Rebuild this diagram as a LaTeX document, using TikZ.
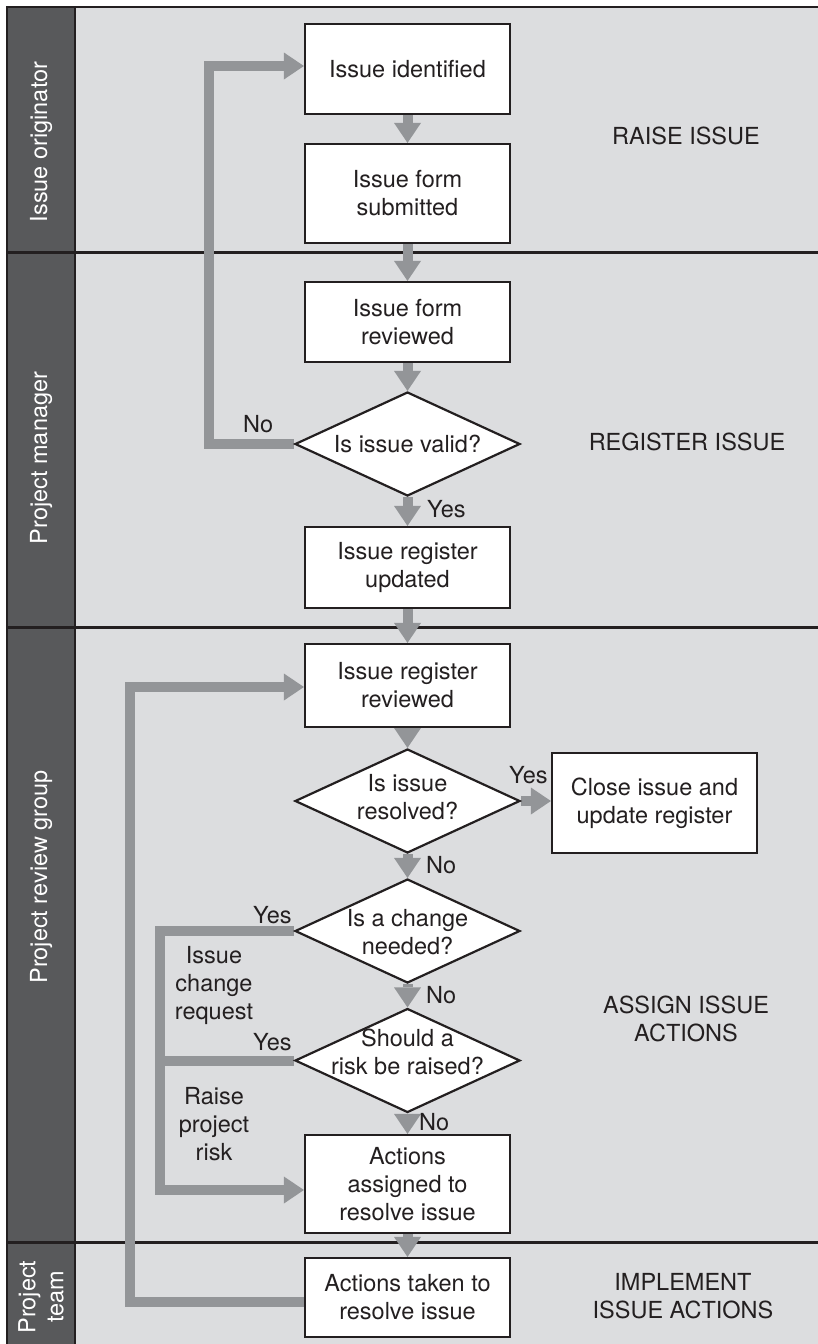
\documentclass[tikz,border=0pt]{standalone}
\usepackage{fontspec}
\setmainfont{TeX Gyre Heros}
\usetikzlibrary{arrows.meta,shapes.geometric,calc}

\definecolor{lanefill}{HTML}{DCDDDF}
\definecolor{headfill}{HTML}{58595B}
\definecolor{inkdark}{HTML}{231F20}
\definecolor{flowgray}{HTML}{939598}

\pgfdeclarelayer{lanes}
\pgfdeclarelayer{flowlayer}
\pgfsetlayers{lanes,flowlayer,main}

\tikzset{
  stepbox/.style={draw=inkdark, line width=2.2pt, fill=white, minimum width=205pt,
    align=center, inner sep=0pt, text=inkdark},
  decision/.style={diamond, draw=inkdark, line width=2.2pt, fill=white,
    minimum width=225pt, minimum height=104pt, inner sep=0pt},
  dtext/.style={align=center, inner sep=0pt, text=inkdark},
  flowline/.style={draw=flowgray, line width=10pt, line join=miter},
  flow/.style={flowline, -{Triangle[length=20pt,width=27pt,line width=0pt]}},
  lanehead/.style={rotate=90, text=white, align=center, inner sep=0pt},
  phase/.style={align=center, inner sep=0pt, text=inkdark},
  answer/.style={anchor=base west, inner sep=0pt, text=inkdark},
  note/.style={align=center, inner sep=0pt, text=inkdark},
  frame/.style={draw=inkdark, line width=2.6pt},
}

\begin{document}
\begin{tikzpicture}[x=1pt, y=-1pt, font=\fontsize{23.5}{28}\selectfont]
\useasboundingbox (0,0) rectangle (818,1344);

% ---- swimlanes ----
\begin{pgfonlayer}{lanes}
  \fill[lanefill] (75,7) rectangle (818,1344);
  \fill[headfill] (7,7) rectangle (75,1344);
  \draw[frame] (7,1344) -- (7,7) -- (818,7);
  \draw[frame, line width=2.2pt] (75,7) -- (75,1344);
  \draw[frame, line width=3pt] (7,252) -- (818,252);
  \draw[frame, line width=3pt] (7,627) -- (818,627);
  \draw[frame, line width=3pt] (7,1242) -- (818,1242);
\end{pgfonlayer}

% ---- lane headings ----
\node[lanehead] (hOrig) at (41,142) {Issue originator};
\node[lanehead] (hPM)   at (41,458) {Project manager};
\node[lanehead] (hPRG)  at (41,877) {Project review group};
\node[lanehead] (hTeam) at (41,1297) {Project\\team};

% ---- phases ----
\node[phase] (pRaise)  at (686,136)  {RAISE ISSUE};
\node[phase] (pReg)    at (687,442)  {REGISTER ISSUE};
\node[phase] (pAssign) at (686,1019) {ASSIGN ISSUE\\ACTIONS};
\node[phase] (pImpl)   at (683,1296) {IMPLEMENT\\ISSUE ACTIONS};

% ---- process steps ----
\node[stepbox, minimum height=90pt] (b1) at (407.5,69)    {Issue identified};
\node[stepbox, minimum height=99pt] (b2) at (407.5,193.5) {Issue form\\submitted};
\node[stepbox, minimum height=80pt] (b3) at (407.5,322)   {Issue form\\reviewed};
\node[decision] (dValid) at (407.5,444) {};
\node[dtext] (tValid) at (dValid) {Is issue valid?};
\node[stepbox, minimum height=81pt] (b5) at (407.5,567.5) {Issue register\\updated};
\node[stepbox, minimum height=83pt] (b6) at (407.5,685.5) {Issue register\\reviewed};
\node[decision] (dResolved) at (407.5,801) {};
\node[dtext] (tResolved) at (407.5,797) {Is issue\\resolved?};
\node[stepbox, minimum height=100pt] (bClose) at (654.5,803) {Close issue and\\update register};
\node[decision] (dChange) at (407.5,931) {};
\node[dtext] (tChange) at (407.5,932.5) {Is a change\\needed?};
\node[decision] (dRisk) at (407.5,1060.5) {};
\node[dtext] (tRisk) at (407.5,1051.5) {Should a\\risk be raised?};
\node[stepbox, minimum height=98pt] (b7) at (407.5,1184) {Actions\\assigned to\\resolve issue};
\node[stepbox, minimum height=79pt] (b8) at (407.5,1297.5) {Actions taken to\\resolve issue};

% ---- branch labels ----
\node[answer] (aValidNo)     at (243,432)  {No};
\node[answer] (aValidYes)    at (427,517)  {Yes};
\node[answer] (aResolvedYes) at (509,783)  {Yes};
\node[answer] (aResolvedNo)  at (426,873)  {No};
\node[answer] (aChangeYes)   at (253,923)  {Yes};
\node[answer] (aChangeNo)    at (426,1003) {No};
\node[answer] (aRiskYes)     at (253,1050) {Yes};
\node[answer] (aRiskNo)      at (419,1130) {No};
\node[note] (nChange) at (214,985)   {Issue\\change\\request};
\node[note] (nRisk)   at (214,1124.5) {Raise\\project\\risk};

% ---- loop corners ----
\coordinate (c1) at (209,66);
\coordinate (c2) at (130,687);
\coordinate (c3) at (160,1190);

% ---- connectors ----
\begin{pgfonlayer}{flowlayer}
  \draw[flow] (b1.south) -- (b2.north);
  \draw[flow] (b2.south) -- (b3.north);
  \draw[flow] (b3.south) -- (dValid.north);
  \draw[flow] (dValid.south) -- (b5.north);
  \draw[flow] (b5.south) -- (b6.north);
  \draw[flow] (b6.south) -- (dResolved.north);
  \draw[flow] (dResolved.south) -- (dChange.north);
  \draw[flow] (dChange.south) -- (dRisk.north);
  \draw[flow] (dRisk.south) -- (b7.north);
  \draw[flow] (b7.south) -- (b8.north);
  \draw[flow] (dResolved.east) -- (dResolved.east -| bClose.west);
  % invalid issue goes back to the start
  \draw[flow] (dValid.west) -| (c1) -- (c1 -| b1.west);
  % actions taken feed the next review
  \draw[flow] ([yshift=-4.5pt]b8.west) -| (c2) -- (c2 -| b6.west);
  % change request / project risk both lead to assigned actions
  \draw[flow] (dChange.west) -| (c3) -- (c3 -| b7.west);
  \draw[flowline] (dRisk.west) -- (dRisk.west -| c3);
\end{pgfonlayer}
\end{tikzpicture}
\end{document}
